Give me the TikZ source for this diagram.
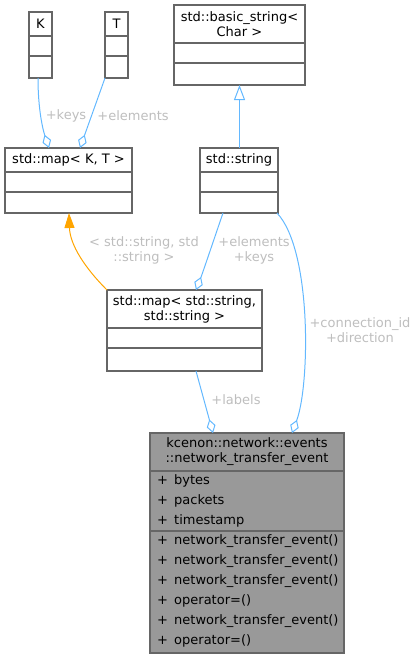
\documentclass[tikz,border=0pt]{standalone}
\usepackage{fontspec}
\setmainfont{DejaVu Sans}
\usetikzlibrary{arrows.meta}
\definecolor{edgeblue}{HTML}{63B8FF}
\definecolor{boxgray}{HTML}{666666}
\definecolor{labgray}{HTML}{BEBEBE}
\definecolor{focusfill}{HTML}{999999}
\definecolor{orangeA}{HTML}{FFA500}
\begin{document}
\begin{tikzpicture}[x=1pt,y=-1pt,
  font=\fontsize{13}{15}\selectfont,
  umlbox/.style={draw=boxgray, line width=1.1pt, fill=white, inner sep=0pt, outer sep=0pt, anchor=north west},
  sepline/.style={draw=boxgray, line width=1.1pt},
  assoc/.style={draw=edgeblue, line width=1pt, -{Diamond[open, length=14pt, width=9pt]}},
  inherit/.style={draw=edgeblue, line width=1pt, -{Triangle[open, length=15pt, width=11pt]}},
  tmpl/.style={draw=orangeA, line width=1pt, -{Triangle[length=15pt, width=10pt, fill=orangeA]}},
  lab/.style={text=labgray, align=center, inner sep=0pt},
  title/.style={align=center, inner sep=0pt},
  member/.style={anchor=mid west, inner sep=0pt}]
\useasboundingbox (0,0) rectangle (417,659);

% K
\node[umlbox, minimum width=23pt, minimum height=66pt] (K) at (29,12) {};
\node[title] (Kt) at (40.5,24) {K};
\draw[sepline] (29,36) -- (52,36);
\draw[sepline] (29,56) -- (52,56);

% T
\node[umlbox, minimum width=23pt, minimum height=66pt] (T) at (105,12) {};
\node[title] (Tt) at (116.5,24) {T};
\draw[sepline] (105,36) -- (128,36);
\draw[sepline] (105,56) -- (128,56);

% std::map<K,T>
\node[umlbox, minimum width=127pt, minimum height=65pt] (mapKT) at (5,148) {};
\node[title] (mapKTt) at (68.5,160) {std::map< K, T >};
\draw[sepline] (5,172) -- (132,172);
\draw[sepline] (5,192) -- (132,192);

% std::basic_string<Char>
\node[umlbox, minimum width=131pt, minimum height=80pt] (basic) at (174,5) {};
\node[title] (basict) at (239.5,24) {std::basic\_string<\\Char >};
\draw[sepline] (174,43) -- (305,43);
\draw[sepline] (174,63) -- (305,63);

% std::string
\node[umlbox, minimum width=78pt, minimum height=65pt] (str) at (200,148) {};
\node[title] (strt) at (239,160) {std::string};
\draw[sepline] (200,172) -- (278,172);
\draw[sepline] (200,192) -- (278,192);

% std::map<std::string, std::string>
\node[umlbox, minimum width=155pt, minimum height=81pt] (mapSS) at (107,290) {};
\node[title] (mapSSt) at (184.5,309) {std::map< std::string,\\std::string >};
\draw[sepline] (107,328) -- (262,328);
\draw[sepline] (107,348) -- (262,348);

% network_transfer_event
\node[umlbox, fill=focusfill, minimum width=194pt, minimum height=220pt] (nte) at (150,433) {};
\node[title] (ntet) at (247,452) {kcenon::network::events\\::network\_transfer\_event};
\draw[sepline] (150,471) -- (344,471);
\draw[sepline] (150,531) -- (344,531);
\foreach \i/\txt in {0/bytes,1/packets,2/timestamp,
  3/network\_transfer\_event(),4/network\_transfer\_event(),5/network\_transfer\_event(),
  6/operator=(),7/network\_transfer\_event(),8/operator=()} {
  \node[member] (p\i) at (157,482+20*\i) {+};
  \node[member] (m\i) at (174,482+20*\i) {\txt};
}

% edges
\draw[assoc] ([xshift=-2.5pt]K.south) .. controls (38,110) and (43,130) .. ([xshift=-19.5pt]mapKT.north);
\draw[assoc] (T.south west) -- ([xshift=11.5pt]mapKT.north);
\node[lab] (lkeys) at (66,116) {+keys};
\node[lab] (lelem) at (133,116) {+elements};

\draw[inherit] ([xshift=0.5pt]str.north) -- ([xshift=0pt]basic.south);

\draw[assoc] ([xshift=-16pt]str.south) .. controls (212,245) and (203,272) .. ([xshift=11.5pt]mapSS.north);
\node[lab] (lek) at (254,250) {+elements\\+keys};

\draw[assoc] ([xshift=38pt]str.south) .. controls (312,250) and (310,385) .. ([xshift=45pt]nte.north);
\node[lab] (lcd) at (360,330) {+connection\_id\\+direction};

\draw[assoc] ([xshift=11.5pt]mapSS.south) -- ([xshift=-34pt]nte.north);
\node[lab] (llab) at (236,400) {+labels};

\draw[tmpl] (mapSS.north west) .. controls (85,268) and (70,245) .. ([xshift=0.5pt]mapKT.south);
\node[lab] (ltmpl) at (144,250) {< std::string, std\\::string >};
\end{tikzpicture}
\end{document}
